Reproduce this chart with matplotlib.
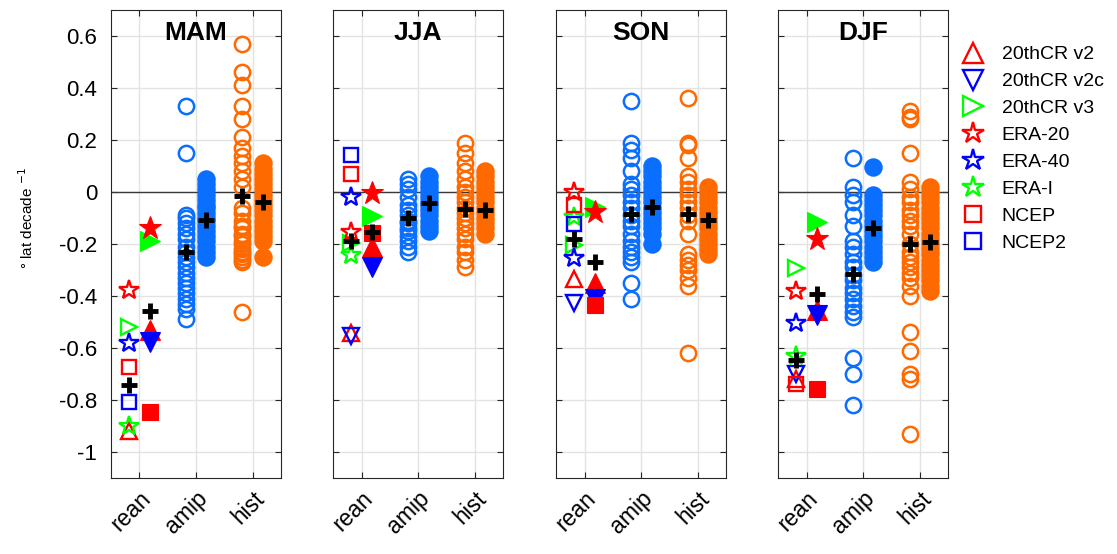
import numpy as np
import matplotlib
matplotlib.use('Agg')
import matplotlib.pyplot as plt
import matplotlib.transforms as mtrans
from matplotlib.lines import Line2D

plt.rcParams['font.family'] = ['Liberation Sans', 'DejaVu Sans']

nan = np.nan
seasons = ['MAM', 'JJA', 'SON', 'DJF']
categories = ['rean', 'amip', 'hist']
ytick_vals = [-1, -0.8, -0.6, -0.4, -0.2, 0, 0.2, 0.4, 0.6]
ytick_labels = ['-1', '-0.8', '-0.6', '-0.4', '-0.2', '0', '0.2', '0.4', '0.6']

rean_names = ['20thCR v2', '20thCR v2c', '20thCR v3', 'ERA-20', 'ERA-40', 'ERA-I', 'NCEP', 'NCEP2']
rean_markers = ['^', 'v', '>', '*', '*', '*', 's', 's']
rean_colors = ['#ff0000', '#0000ff', '#00ff00', '#ff0000', '#0000ff', '#00ff00', '#ff0000', '#0000ff']

# Reanalysis trends, open markers (order as rean_names)
rean_open = {
    'MAM': [-0.92, -1.18, -0.52, -0.377, -0.58, -0.90, -0.672, -0.806],
    'JJA': [-0.544, -0.554, -0.196, -0.153, -0.018, -0.242, 0.069, 0.142],
    'SON': [-0.336, -0.426, -0.204, 0.001, -0.255, -0.095, -0.05, -0.123],
    'DJF': [-0.72, -0.70, -0.294, -0.381, -0.503, -0.631, -0.738, -1.20],
}
# Reanalysis trends, filled markers
rean_fill = {
    'MAM': [-0.53, -0.576, -0.19, -0.14, nan, nan, -0.845, nan],
    'JJA': [-0.21, -0.287, -0.092, -0.005, nan, nan, -0.158, nan],
    'SON': [-0.351, -0.41, -0.056, -0.076, nan, nan, -0.435, nan],
    'DJF': [-0.454, -0.473, -0.114, -0.182, nan, nan, -0.758, nan],
}

amip_open = {
    'MAM': [0.33, 0.15, -0.09, -0.10, -0.12, -0.14, -0.16, -0.18, -0.21, -0.23, -0.25,
            -0.27, -0.29, -0.31, -0.33, -0.35, -0.37, -0.39, -0.41, -0.43, -0.45, -0.49],
    'JJA': [0.05, 0.03, 0.01, -0.02, -0.05, -0.07, -0.09, -0.11, -0.12, -0.14, -0.15,
            -0.17, -0.19, -0.21, -0.23],
    'SON': [0.35, 0.19, 0.16, 0.13, 0.08, 0.03, 0.01, -0.01, -0.04, -0.06, -0.09, -0.11,
            -0.13, -0.16, -0.19, -0.21, -0.23, -0.25, -0.27, -0.35, -0.41],
    'DJF': [0.13, 0.02, -0.01, -0.04, -0.09, -0.13, -0.19, -0.21, -0.24, -0.27, -0.29,
            -0.32, -0.34, -0.37, -0.39, -0.41, -0.44, -0.46, -0.48, -0.64, -0.70, -0.82],
}
amip_fill = {
    'MAM': [0.05, 0.03, 0.01, -0.01, -0.03, -0.05, -0.06, -0.08, -0.10, -0.11, -0.13,
            -0.15, -0.17, -0.19, -0.21, -0.23, -0.25],
    'JJA': [0.06, 0.04, 0.02, 0.00, -0.02, -0.04, -0.05, -0.07, -0.09, -0.11, -0.13, -0.15],
    'SON': [0.10, 0.08, 0.06, 0.04, 0.02, 0.00, -0.02, -0.04, -0.06, -0.08, -0.10, -0.12,
            -0.14, -0.16, -0.20],
    'DJF': [0.095, -0.01, -0.03, -0.05, -0.07, -0.09, -0.11, -0.13, -0.15, -0.17, -0.19,
            -0.21, -0.23, -0.25, -0.27],
}
hist_open = {
    'MAM': [0.57, 0.46, 0.41, 0.33, 0.28, 0.21, 0.17, 0.14, 0.11, 0.08, 0.05, 0.02, -0.06,
            -0.08, -0.11, -0.13, -0.14, -0.16, -0.17, -0.19, -0.20, -0.22, -0.23, -0.24,
            -0.25, -0.26, -0.27, -0.46],
    'JJA': [0.19, 0.15, 0.11, 0.08, 0.05, 0.02, 0.00, -0.02, -0.04, -0.06, -0.08, -0.10,
            -0.12, -0.14, -0.16, -0.18, -0.21, -0.23, -0.26, -0.29],
    'SON': [0.36, 0.19, 0.18, 0.13, 0.06, 0.04, 0.01, -0.01, -0.04, -0.06, -0.09, -0.11,
            -0.16, -0.24, -0.26, -0.28, -0.30, -0.33, -0.36, -0.62],
    'DJF': [0.31, 0.29, 0.28, 0.15, 0.04, 0.01, -0.02, -0.04, -0.07, -0.09, -0.11, -0.13,
            -0.16, -0.20, -0.23, -0.25, -0.27, -0.29, -0.31, -0.33, -0.36, -0.40, -0.54,
            -0.61, -0.70, -0.72, -0.93],
}
hist_fill = {
    'MAM': [0.11, 0.09, 0.07, 0.05, 0.03, 0.01, -0.01, -0.03, -0.05, -0.07, -0.09, -0.11,
            -0.13, -0.15, -0.17, -0.19, -0.25],
    'JJA': [0.08, 0.06, 0.04, 0.02, 0.00, -0.02, -0.04, -0.06, -0.08, -0.10, -0.12, -0.14, -0.16],
    'SON': [0.02, 0.00, -0.02, -0.04, -0.06, -0.08, -0.10, -0.12, -0.14, -0.16, -0.18, -0.20,
            -0.22, -0.24],
    'DJF': [0.02, 0.00, -0.02, -0.04, -0.06, -0.08, -0.10, -0.12, -0.14, -0.16, -0.18, -0.20,
            -0.22, -0.24, -0.26, -0.28, -0.30, -0.32, -0.34, -0.36, -0.38],
}
# Ensemble means (black crosses): [rean open, rean filled, amip open, amip filled, hist open, hist filled]
means = {
    'MAM': [-0.744, -0.457, -0.23, -0.108, -0.015, -0.04],
    'JJA': [-0.187, -0.153, -0.099, -0.044, -0.067, -0.07],
    'SON': [-0.182, -0.268, -0.085, -0.056, -0.086, -0.108],
    'DJF': [-0.646, -0.394, -0.317, -0.137, -0.201, -0.191],
}

BLUE = '#0a6eff'
ORANGE = '#ff6a00'
off = 0.18

W, H = 1117, 554
fig = plt.figure(figsize=(W / 100, H / 100), dpi=100)
lefts = [111, 333.3, 556.3, 778.3]
axw = 170
ax_bottom, ax_top = 478, 10
label_shift = mtrans.ScaledTranslation(8 / 100, -2 / 100, fig.dpi_scale_trans)

for i, s in enumerate(seasons):
    ax = fig.add_axes([lefts[i] / W, 1 - ax_bottom / H, axw / W, (ax_bottom - ax_top) / H])
    ax.set_xlim(0.5, 3.5)
    ax.set_ylim(-1.1, 0.7)
    ax.set_xticks([1, 2, 3])
    ax.set_yticks(ytick_vals)
    ax.grid(True, color='#e3e3e3', lw=1.0, zorder=0)
    ax.set_axisbelow(True)
    ax.axhline(0, color='#3a3a3a', lw=1.0, zorder=1)
    ax.tick_params(direction='in', length=4, width=0.8, top=True, right=True,
                   color='#262626', labelsize=16)
    for sp in ax.spines.values():
        sp.set_color('#262626')
        sp.set_linewidth(0.8)
    if i == 0:
        ax.set_yticklabels(ytick_labels)
        ax.tick_params(axis='y', pad=10)
    else:
        ax.set_yticklabels([])
    ax.set_xticklabels(categories, rotation=45, ha='right', va='center',
                       rotation_mode='anchor', fontsize=16.5)
    ax.tick_params(axis='x', pad=11)
    for lab in ax.get_xticklabels():
        lab.set_transform(lab.get_transform() + label_shift)

    # model ensembles
    for xc, vals_o, vals_f, col in [(2, amip_open[s], amip_fill[s], BLUE),
                                    (3, hist_open[s], hist_fill[s], ORANGE)]:
        ax.plot([xc - off] * len(vals_o), vals_o, 'o', ms=11, mfc='none', mec=col,
                mew=1.8, ls='none', zorder=3)
        ax.plot([xc + off] * len(vals_f), vals_f, 'o', ms=11.5, mfc=col, mec=col,
                mew=1.8, ls='none', zorder=3)

    # reanalyses
    for k in range(len(rean_names)):
        mk = rean_markers[k]
        ms = 15 if mk == '*' else (10 if mk == 's' else 12)
        ms_f = 17 if mk == '*' else (11 if mk == 's' else 15)
        ax.plot([1 - off], [rean_open[s][k]], mk, ms=ms, mfc='none',
                mec=rean_colors[k], mew=1.7, ls='none', zorder=4)
        v = rean_fill[s][k]
        if not np.isnan(v):
            ax.plot([1 + off], [v], mk, ms=ms_f, mfc=rean_colors[k],
                    mec=rean_colors[k], mew=0.8, ls='none', zorder=4)

    # means
    xs_m = [1 - off, 1 + off, 2 - off, 2 + off, 3 - off, 3 + off]
    ax.plot(xs_m, means[s], '+', ms=12, mew=3.5, color='black', ls='none', zorder=5)

    ax.text(0.5, 0.951, s, transform=ax.transAxes, ha='center', va='center',
            fontsize=19, fontweight='bold')

fig.text(27 / W, 1 - 218 / H, '° lat decade $^{-1}$', rotation=90, ha='center',
         va='center', fontsize=11)

handles = []
for k in range(len(rean_names)):
    mk = rean_markers[k]
    ms = 16 if mk == '*' else (11 if mk == 's' else 14)
    handles.append(Line2D([], [], marker=mk, ls='none', ms=ms, mfc='none',
                          mec=rean_colors[k], mew=1.7))
fig.legend(handles, rean_names, loc='upper left', bbox_to_anchor=(951 / W, 1 - 38 / H),
           frameon=False, fontsize=14, labelspacing=0.48, handletextpad=0.7,
           borderaxespad=0, handlelength=1.5)

fig.savefig('out.png', dpi=100)
